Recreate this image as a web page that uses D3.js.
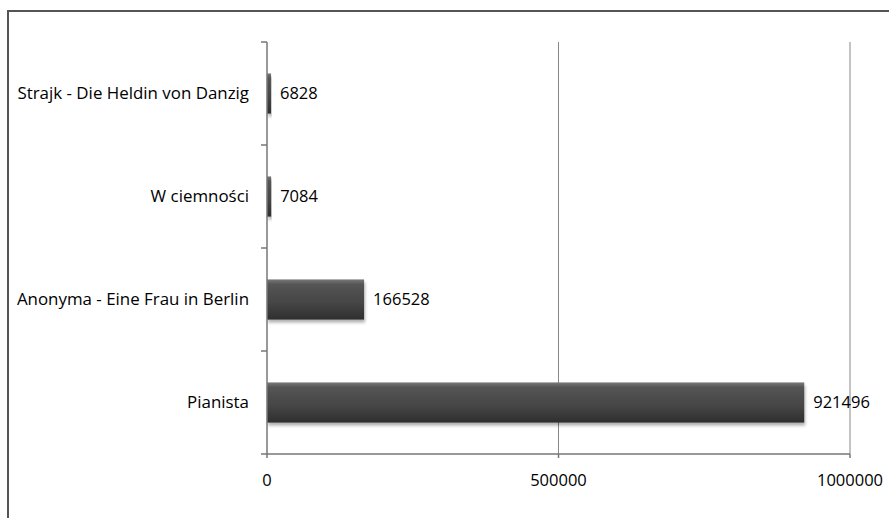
<!DOCTYPE html>
<html>
<head>
<meta charset="utf-8">
<script src="https://cdn.jsdelivr.net/npm/d3@7"></script>
<style>
  body { margin: 0; background: #fff; }
  text { font-family: "Open Sans", sans-serif; fill: #000; }
</style>
</head>
<body>
<div id="chart"></div>
<script>
// data, top to bottom as drawn
const films = ["Strajk - Die Heldin von Danzig", "W ciemności", "Anonyma - Eine Frau in Berlin", "Pianista"];
const viewers = [6828, 7084, 166528, 921496];
const xTicks = [0, 500000, 1000000];

const W = 889, H = 518;
const plot = { left: 267, right: 850, top: 42, bottom: 454 };

const svg = d3.select("#chart").append("svg")
  .attr("width", W)
  .attr("height", H);

// gradient + shadow for the bars
const defs = svg.append("defs");
const grad = defs.append("linearGradient")
  .attr("id", "barGrad")
  .attr("x1", 0).attr("y1", 0).attr("x2", 0).attr("y2", 1);
grad.append("stop").attr("offset", "0%").attr("stop-color", "#7a7a7a");
grad.append("stop").attr("offset", "12%").attr("stop-color", "#555");
grad.append("stop").attr("offset", "60%").attr("stop-color", "#454545");
grad.append("stop").attr("offset", "100%").attr("stop-color", "#2e2e2e");

const shadow = defs.append("filter").attr("id", "shadow")
  .attr("x", "-5%").attr("y", "-20%").attr("width", "115%").attr("height", "160%");
shadow.append("feDropShadow")
  .attr("dx", 1).attr("dy", 3).attr("stdDeviation", 1.5)
  .attr("flood-color", "#000").attr("flood-opacity", 0.3);

// outer frame (runs off the right / bottom edge)
svg.append("rect")
  .attr("x", 8).attr("y", 11)
  .attr("width", W + 10).attr("height", H + 10)
  .attr("fill", "none")
  .attr("stroke", "#555")
  .attr("stroke-width", 2);

const x = d3.scaleLinear().domain([0, 1000000]).range([plot.left, plot.right]);
const y = d3.scaleBand().domain(films).range([plot.top, plot.bottom])
  .paddingInner(0.61).paddingOuter(0.305);

// vertical gridlines
svg.append("g").selectAll("line")
  .data(xTicks.slice(1))
  .enter().append("line")
  .attr("x1", d => x(d)).attr("x2", d => x(d))
  .attr("y1", plot.top).attr("y2", plot.bottom)
  .attr("stroke", "#888")
  .attr("stroke-width", 1);

// bars
svg.append("g").selectAll("rect")
  .data(films)
  .enter().append("rect")
  .attr("x", x(0))
  .attr("y", d => y(d))
  .attr("width", (d, i) => Math.max(3, x(viewers[i]) - x(0)))
  .attr("height", y.bandwidth())
  .attr("fill", "url(#barGrad)")
  .attr("filter", "url(#shadow)");

// value labels
svg.append("g").selectAll("text")
  .data(films)
  .enter().append("text")
  .attr("x", (d, i) => x(viewers[i]) + 9)
  .attr("y", d => y(d) + y.bandwidth() / 2)
  .attr("dy", "0.35em")
  .style("font-size", "16.5px")
  .text((d, i) => viewers[i]);

// y axis: line + category boundary ticks
const yAxis = svg.append("g");
yAxis.append("line")
  .attr("x1", plot.left).attr("x2", plot.left)
  .attr("y1", plot.top).attr("y2", plot.bottom)
  .attr("stroke", "#777").attr("stroke-width", 1.5);
const bounds = films.map(d => y(d) - y.step() * y.paddingInner() / 2).concat([plot.bottom]);
yAxis.selectAll("line.tick")
  .data(bounds)
  .enter().append("line")
  .attr("class", "tick")
  .attr("x1", plot.left - 6).attr("x2", plot.left)
  .attr("y1", d => d).attr("y2", d => d)
  .attr("stroke", "#777").attr("stroke-width", 1.5);
yAxis.selectAll("text")
  .data(films)
  .enter().append("text")
  .attr("x", plot.left - 18)
  .attr("y", d => y(d) + y.bandwidth() / 2)
  .attr("dy", "0.35em")
  .attr("text-anchor", "end")
  .style("font-size", "16.9px")
  .text(d => d);

// x axis
const xAxis = svg.append("g");
xAxis.append("line")
  .attr("x1", plot.left).attr("x2", plot.right)
  .attr("y1", plot.bottom).attr("y2", plot.bottom)
  .attr("stroke", "#777").attr("stroke-width", 1.5);
xAxis.selectAll("line.tick")
  .data(xTicks)
  .enter().append("line")
  .attr("class", "tick")
  .attr("x1", d => x(d)).attr("x2", d => x(d))
  .attr("y1", plot.bottom).attr("y2", plot.bottom + 4)
  .attr("stroke", "#777").attr("stroke-width", 1.5);
xAxis.selectAll("text")
  .data(xTicks)
  .enter().append("text")
  .attr("x", d => x(d))
  .attr("y", plot.bottom + 26)
  .attr("dy", "0.35em")
  .attr("text-anchor", "middle")
  .style("font-size", "16.5px")
  .text(d => d);
</script>
</body>
</html>
